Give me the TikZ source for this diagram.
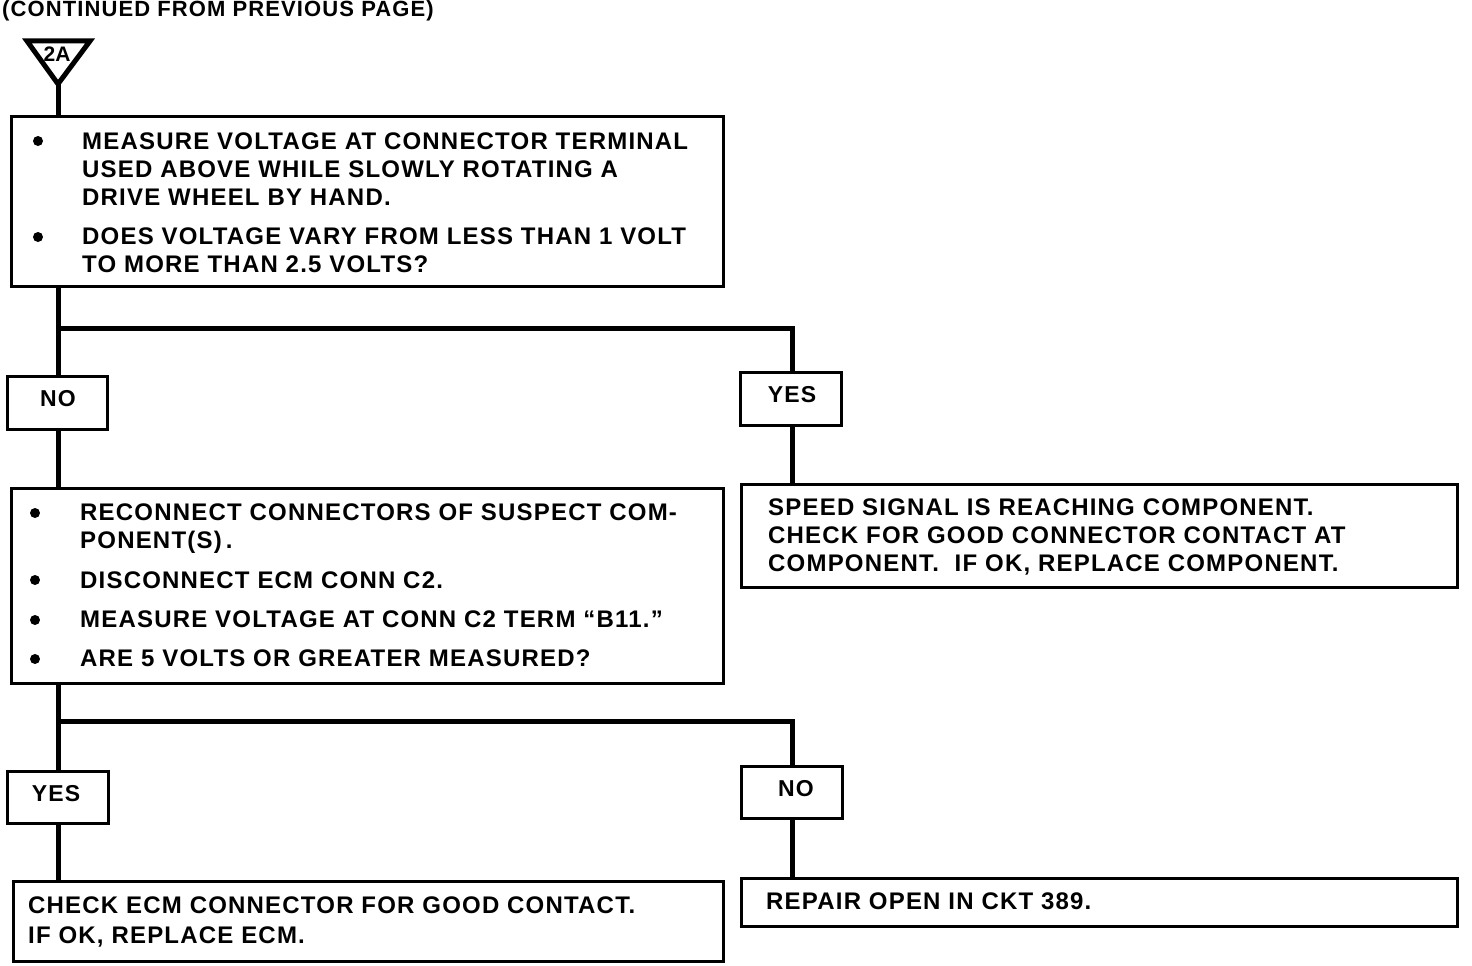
\documentclass[tikz,border=0pt]{standalone}
\usepackage{fontspec}
\newfontfamily\dfont{Liberation Sans}[LetterSpace=5]
\newfontfamily\dfontn{Liberation Sans}
\begin{document}
\begin{tikzpicture}[x=1pt,y=-1pt,
  box/.style={draw=black,line width=2.5pt,inner sep=0pt,anchor=north west},
  ans/.style={draw=black,line width=2.5pt,inner sep=0pt,anchor=north west},
  txt/.style={anchor=base west,inner sep=0pt,font=\dfont\bfseries\fontsize{24}{28}\selectfont},
  lbl/.style={inner sep=0pt,font=\dfont\bfseries\fontsize{23}{28}\selectfont},
  bullet/.style={circle,fill=black,inner sep=0pt,minimum size=10pt},
  conn/.style={line width=5pt}]
\useasboundingbox (0,0) rectangle (1472,966);

% title
\node[anchor=base west,inner sep=0pt,font=\dfont\bfseries\fontsize{22}{26}\selectfont] (title) at (2,17) {(CONTINUED FROM PREVIOUS PAGE)};

% off-page connector triangle
\draw[line width=5pt,line join=miter] (27,41) -- (90,41) -- (58,84) -- cycle;
\node[inner sep=0pt,font=\dfontn\bfseries\fontsize{21}{24}\selectfont] (tri) at (57,54) {2A};
\coordinate (apex) at (58,84);

% boxes
\node[box,minimum width=712pt,minimum height=170pt] (b1) at (10,115) {};
\node[ans,minimum width=100pt,minimum height=53pt] (no1) at (6,375) {};
\node[ans,minimum width=101pt,minimum height=53pt] (yes1) at (739,371) {};
\node[box,minimum width=712pt,minimum height=195pt] (b2) at (10,487) {};
\node[box,minimum width=716pt,minimum height=103pt] (b3) at (740,483) {};
\node[ans,minimum width=101pt,minimum height=52pt] (yes2) at (6,770) {};
\node[ans,minimum width=101pt,minimum height=52pt] (no2) at (740,765) {};
\node[box,minimum width=710pt,minimum height=80pt] (b4) at (12,880) {};
\node[box,minimum width=716pt,minimum height=48pt] (b5) at (740,877) {};

% labels
\node[lbl] (tno1) at (58,399) {NO};
\node[lbl] (tyes1) at (792,395) {YES};
\node[lbl] (tyes2) at (56,794) {YES};
\node[lbl] (tno2) at (796,789) {NO};

% box 1 text
\node[bullet] (bu11) at (38,141) {};
\node[txt] (t11) at (82,149) {MEASURE VOLTAGE AT CONNECTOR TERMINAL};
\node[txt] (t12) at (82,177) {USED ABOVE WHILE SLOWLY ROTATING A};
\node[txt] (t13) at (82,205) {DRIVE WHEEL BY HAND.};
\node[bullet] (bu12) at (38,237) {};
\node[txt] (t14) at (82,244) {DOES VOLTAGE VARY FROM LESS THAN 1 VOLT};
\node[txt] (t15) at (82,272) {TO MORE THAN 2.5 VOLTS?};

% box 2 text
\node[bullet] (bu21) at (35,513) {};
\node[txt] (t21) at (80,520) {RECONNECT CONNECTORS OF SUSPECT COM-};
\node[txt] (t22) at (80,548) {PONENT(S)\,.};
\node[bullet] (bu22) at (35,580) {};
\node[txt] (t23) at (80,588) {DISCONNECT ECM CONN C2.};
\node[bullet] (bu23) at (35,620) {};
\node[txt] (t24) at (80,627) {MEASURE VOLTAGE AT CONN C2 TERM “B11.”};
\node[bullet] (bu24) at (35,659) {};
\node[txt] (t25) at (80,666) {ARE 5 VOLTS OR GREATER MEASURED?};

% box 3 text
\node[txt] (t31) at (768,515) {SPEED SIGNAL IS REACHING COMPONENT.};
\node[txt] (t32) at (768,543) {CHECK FOR GOOD CONNECTOR CONTACT AT};
\node[txt] (t33) at (768,571) {COMPONENT.\ \ IF OK, REPLACE COMPONENT.};

% box 4 text
\node[txt] (t41) at (28,913) {CHECK ECM CONNECTOR FOR GOOD CONTACT.};
\node[txt] (t42) at (28,943) {IF OK, REPLACE ECM.};

% box 5 text
\node[txt] (t51) at (766,909) {REPAIR OPEN IN CKT 389.};

% connectors
\coordinate (j1) at (58,328);
\coordinate (r1) at (792,328);
\coordinate (j2) at (58,721);
\coordinate (r2) at (792,721);
\draw[conn] (apex) -- (apex |- b1.north);
\draw[conn] (b1.south -| j1) -- (no1.north -| j1);
\draw[conn] (j1) -- (r1) -- (r1 |- yes1.north);
\draw[conn] (no1.south -| j1) -- (b2.north -| j1);
\draw[conn] (yes1.south -| r1) -- (b3.north -| r1);
\draw[conn] (b2.south -| j2) -- (yes2.north -| j2);
\draw[conn] (j2) -- (r2) -- (r2 |- no2.north);
\draw[conn] (yes2.south -| j2) -- (b4.north -| j2);
\draw[conn] (no2.south -| r2) -- (b5.north -| r2);
\end{tikzpicture}
\end{document}
